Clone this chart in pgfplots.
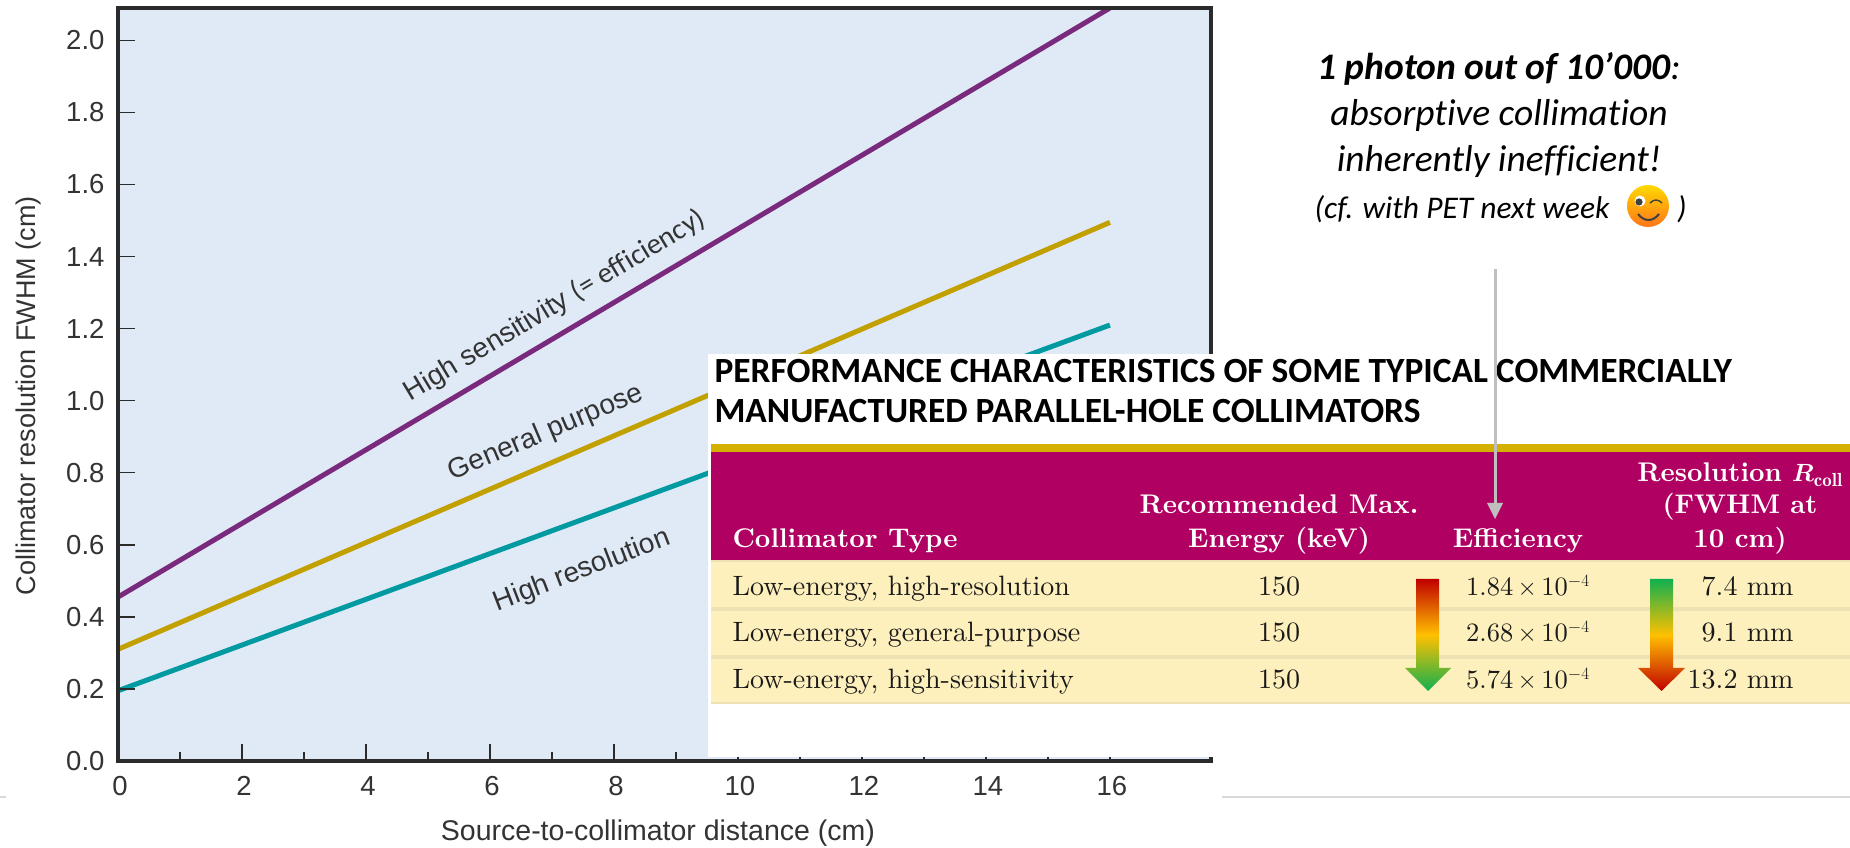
\documentclass[border=0pt]{standalone}
\usepackage{fontspec}
\usepackage{pgfplots}
\pgfplotsset{compat=1.18}
\newfontfamily\sans{Liberation Sans}
\newfontfamily\calib[Ligatures={NoCommon}]{Carlito}
\newfontfamily\lmten[Extension=.otf,BoldFont=lmroman10-bold,ItalicFont=lmroman10-italic]{lmroman10-regular}
\definecolor{bgblue}{HTML}{E0EAF7}
\definecolor{frame}{HTML}{2B2B2B}
\definecolor{ink}{HTML}{333333}
\definecolor{cpurple}{HTML}{7A2A7C}
\definecolor{cgold}{HTML}{C2A000}
\definecolor{cteal}{HTML}{009AA0}
\definecolor{magenta2}{HTML}{B00062}
\definecolor{gold2}{HTML}{D4B000}
\definecolor{rowbg}{HTML}{FDF0BD}
\definecolor{rowsep}{HTML}{EEE2B4}
\definecolor{agreen}{HTML}{10B050}
\definecolor{ared}{HTML}{C00000}
\definecolor{ayellow}{HTML}{FFC000}
\definecolor{grayline}{HTML}{BFBFBF}
\newcommand{\fs}[1]{\fontsize{#1}{#1}\selectfont}
\begin{document}
\begin{tikzpicture}[x=1pt,y=1pt]
\path[use as bounding box,fill=white] (0,0) rectangle (1850,848);
\draw[gray!30,line width=2pt] (0,51) -- (6,51) (1222,51) -- (1850,51);
\begin{axis}[
  at={(118pt,87pt)},anchor=origin,
  scale only axis,width=1093pt,height=753pt,
  xmin=0,xmax=17.63,ymin=0,ymax=2.09,
  axis background/.style={fill=bgblue},
  axis line style={draw=frame,line width=4.5pt},
  axis on top,
  xtick={0,2,...,16},minor x tick num=1,
  ytick={0,0.2,...,2.0},
  xtick pos=lower,ytick pos=left,
  tick style={draw=frame,line width=1.4pt},
  major tick length=17pt,minor tick length=9pt,
  tick label style={font=\sans\fs{27.5},text=ink,/pgf/number format/assume math mode=true},
  yticklabel style={/pgf/number format/fixed,/pgf/number format/fixed zerofill,/pgf/number format/precision=1,xshift=-10pt},
  xticklabel style={yshift=-12pt,xshift=2pt},
  every axis y label/.style={at={(axis description cs:-0.082,0.485)},rotate=90,anchor=center},
  every axis x label/.style={at={(axis description cs:0.494,-0.0956)},anchor=center},
  xlabel style={font=\sans\fs{28.5},text=ink},
  ylabel style={font=\sans\fs{27},text=ink},
  xlabel={Source-to-collimator distance (cm)},
  ylabel={Collimator resolution FWHM (cm)},
]
\addplot[cpurple,line width=5pt] coordinates {(0,0.455) (16,2.09)};
\addplot[cgold,line width=5pt] coordinates {(0,0.31) (16,1.495)};
\addplot[cteal,line width=5pt] coordinates {(0,0.195) (16,1.21)};
\end{axis}
\begin{scope}[x=1pt,y=-1pt,shift={(0,848pt)}]
% in-plot labels
\node[rotate=31,text=ink,font=\sans\fs{28},anchor=center] at (555,306) {High sensitivity {\calib\fs{29}(= efficiency)}};
\node[rotate=23,text=ink,font=\sans\fs{28},anchor=center] at (546,433) {General purpose};
\node[rotate=21,text=ink,font=\sans\fs{28},anchor=center] at (582,571) {High resolution};
% overlay
\fill[white] (708,354) rectangle (1850,757);
\fill[white] (1214,757) rectangle (1850,770);
\node[anchor=west,font=\calib\bfseries\fs{35.4}] at (711,371) {PERFORMANCE CHARACTERISTICS OF SOME TYPICAL COMMERCIALLY};
\node[anchor=west,font=\calib\bfseries\fs{35.4}] at (711,411) {MANUFACTURED PARALLEL-HOLE COLLIMATORS};
\fill[magenta2] (711,451) rectangle (1850,560);
\fill[gold2] (711,444) rectangle (1850,452);
\fill[rowbg] (711,560) rectangle (1850,704);
\fill[rowsep] (711,560) rectangle (1850,562);
\fill[rowsep] (711,607) rectangle (1850,611);
\fill[rowsep] (711,655) rectangle (1850,659);
\fill[rowsep] (711,702) rectangle (1850,704);
\tikzset{hd/.style={text=white,font=\lmten\bfseries\fs{27}},rw/.style={font=\lmten\fs{28},text=black!90}}
\node[hd,anchor=base west] at (729,548) {Collimator Type};
\node[hd,anchor=base] at (1279,514) {Recommended Max.};
\node[hd,anchor=base] at (1279,548) {Energy (keV)};
\node[hd,anchor=base] at (1518,548) {Efficiency};
\node[hd,anchor=base] at (1740,482) {Resolution {\boldmath$R_{\mathrm{coll}}$}};
\node[hd,anchor=base] at (1740,514) {(FWHM at};
\node[hd,anchor=base] at (1740,548) {10 cm)};
\foreach \yy/\ty/\ee/\rr in {596/high-resolution/1.84/7.4,642/general-purpose/2.68/9.1,689/high-sensitivity/5.74/13.2}{
  \node[rw,anchor=base west] at (729,\yy) {Low-energy, \ty};
  \node[rw,anchor=base] at (1279,\yy) {150};
  \node[rw,font=\lmten\fs{26.5},anchor=base] at (1528,\yy) {\ee\,$\times$\,10$^{-4}$};
  \node[rw,anchor=base east] at (1797,\yy) {\rr~mm};
}
\shade[top color=ared,bottom color=agreen,middle color=ayellow]
  (1416,579) -- (1439,579) -- (1439,668) -- (1451,668) -- (1428,691) -- (1405,668) -- (1416,668) -- cycle;
\shade[top color=agreen,bottom color=ared,middle color=ayellow]
  (1650,579) -- (1673,579) -- (1673,668) -- (1685,668) -- (1661.5,691) -- (1638,668) -- (1650,668) -- cycle;
% grey arrow
\draw[grayline,line width=3pt] (1495,269) -- (1495,505);
\fill[grayline] (1487,503) -- (1503,503) -- (1495,519) -- cycle;
% annotation
\node[font=\calib\itshape\fs{37.5},anchor=base] at (1499,80) {\textbf{1 photon out of 10’000}:};
\node[font=\calib\itshape\fs{37.5},anchor=base] at (1499,126) {absorptive collimation};
\node[font=\calib\itshape\fs{37.5},anchor=base] at (1499,172) {inherently inefficient!};
\node[font=\calib\itshape\fs{31.5},anchor=base] at (1462,219) {(cf. with PET next week};
\node[font=\calib\itshape\fs{31.5},anchor=base] at (1682,219) {)};
% wink face
\shade[top color=yellow!70!orange,bottom color=orange!80!red!90!white] (1648,206) circle (21);
\fill[white] (1640,201) circle (5.5);
\fill[black!75] (1639,202) circle (3.6);
\draw[black!75,line width=1.4pt] (1650,203) .. controls (1654,199) and (1658,199) .. (1662,203);
\draw[black!75,line width=2pt] (1638,214) .. controls (1644,222) and (1653,222) .. (1659,214);
\end{scope}
\end{tikzpicture}
\end{document}
